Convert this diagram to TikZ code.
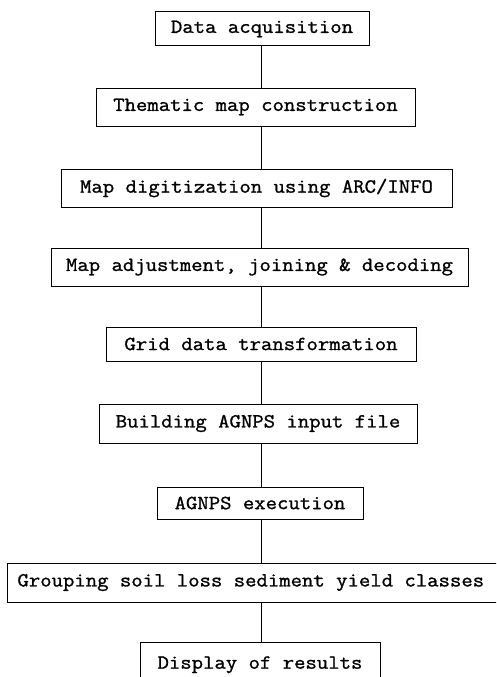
\documentclass[tikz,border=0pt]{standalone}
\usepackage{fontspec}
\newfontfamily\boxfont{Latin Modern Mono}[FakeBold=1.2,FakeStretch=1.105]
\begin{document}
\begin{tikzpicture}[x=1pt,y=-1pt,
  box/.style={draw, line width=1pt, font=\boxfont\fontsize{20}{24}\selectfont, inner sep=0pt},
  link/.style={draw, line width=1pt}]
\useasboundingbox (0,0) rectangle (496,677);
\begin{scope}
\clip (0,0) rectangle (496,677);
\coordinate (spine) at (261,0);
\node[box, minimum width=214pt, minimum height=34pt] (b1) at (262,29) {Data acquisition};
\node[box, minimum width=319pt, minimum height=38pt] (b2) at (255.5,107) {Thematic map construction};
\node[box, minimum width=391pt, minimum height=38pt] (b3) at (256.5,188) {Map digitization using ARC/INFO};
\node[box, minimum width=417pt, minimum height=38pt] (b4) at (259.5,267) {Map adjustment, joining \& decoding};
\node[box, minimum width=310pt, minimum height=34pt] (b5) at (261,344) {Grid data transformation};
\node[box, minimum width=318pt, minimum height=39pt] (b6) at (258,423.5) {Building AGNPS input file};
\node[box, minimum width=206pt, minimum height=32pt] (b7) at (260,503) {AGNPS execution};
\node[box, anchor=west, minimum height=39pt, inner xsep=10pt] (b8) at (7,582.5) {\makebox[490pt][l]{Grouping soil loss sediment yield classes}};
\node[box, anchor=north, minimum width=240pt, minimum height=52pt, text depth=12pt] (b9) at (260,642) {Display of results};
\draw[link] (b1.south -| spine) -- (b2.north -| spine);
\draw[link] (b2.south -| spine) -- (b3.north -| spine);
\draw[link] (b3.south -| spine) -- (b4.north -| spine);
\draw[link] (b4.south -| spine) -- (b5.north -| spine);
\draw[link] (b5.south -| spine) -- (b6.north -| spine);
\draw[link] (b6.south -| spine) -- (b7.north -| spine);
\draw[link] (b7.south -| spine) -- (b8.north -| spine);
\draw[link] (b8.south -| spine) -- (b9.north -| spine);
\end{scope}
\end{tikzpicture}
\end{document}
